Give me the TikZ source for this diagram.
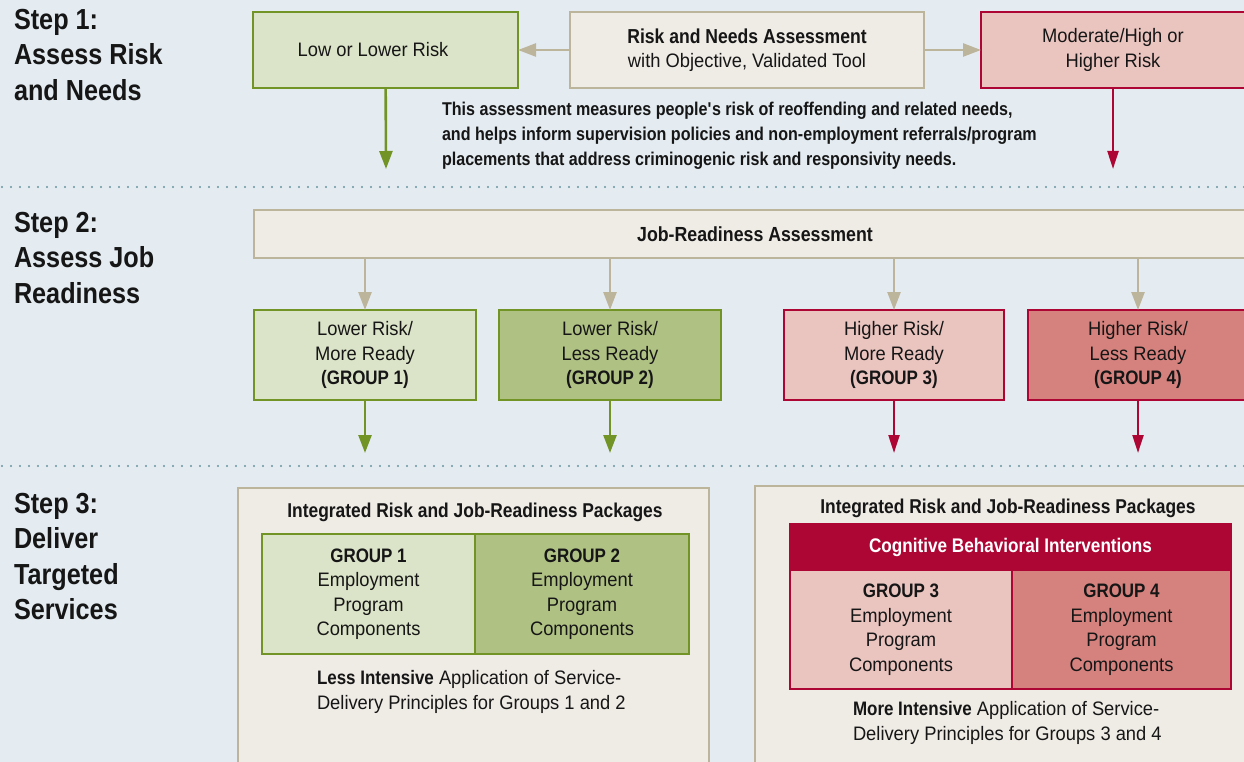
\documentclass[tikz,border=0pt]{standalone}
\usepackage{fontspec}
\setmainfont{Liberation Sans}[FakeStretch=0.94,BoldFeatures={FakeStretch=0.87}]
\usepackage{tikz}
\usetikzlibrary{arrows.meta,positioning}

\definecolor{bgblue}{RGB}{228,236,242}
\definecolor{inkblack}{RGB}{22,22,22}
\definecolor{beigefill}{RGB}{239,235,229}
\definecolor{tanline}{RGB}{189,180,156}
\definecolor{greenpale}{RGB}{219,228,200}
\definecolor{greenmid}{RGB}{175,193,131}
\definecolor{greenline}{RGB}{114,148,38}
\definecolor{pinkpale}{RGB}{234,196,191}
\definecolor{rosemid}{RGB}{213,130,126}
\definecolor{crimson}{RGB}{173,6,52}
\definecolor{dotteal}{RGB}{105,148,158}

\newcommand{\grp}[1]{{\bfseries\addfontfeature{FakeStretch=0.8}#1}}

\begin{document}
\begin{tikzpicture}[x=1pt, y=-1pt, text=inkblack, outer sep=0pt,
	stepname/.style	= {anchor=north west, align=left, inner sep=0pt, font=\bfseries\fontsize{29}{35.5}\selectfont},
	box/.style	= {draw, line width=2.5pt, inner sep=0pt, outer sep=0pt, align=center, font=\fontsize{19.5}{24.5}\selectfont},
	beigebox/.style	= {box, fill=beigefill, draw=tanline},
	lowbox/.style	= {box, fill=greenpale, draw=greenline},
	lessbox/.style	= {box, fill=greenmid, draw=greenline},
	highbox/.style	= {box, fill=pinkpale, draw=crimson},
	worsebox/.style	= {box, fill=rosemid, draw=crimson},
	caption/.style	= {anchor=north west, align=left, inner sep=0pt, font=\fontsize{19.5}{25.5}\selectfont},
	heading/.style	= {inner sep=0pt, font=\bfseries\fontsize{20}{24}\selectfont},
	tanarrow/.style	= {-{Triangle[width=13pt,length=18pt]}, color=tanline, line width=2.6pt},
	greenarrow/.style	= {-{Triangle[width=13pt,length=18pt]}, color=greenline, line width=2.6pt},
	redarrow/.style	= {-{Triangle[width=11pt,length=18pt]}, color=crimson, line width=2.2pt},
	dotline/.style	= {draw=dotteal, line width=2.2pt, line cap=round, dash pattern=on 0pt off 9pt}]

	\useasboundingbox (0,0) rectangle (1244,762);
	\clip (0,0) rectangle (1244,762);
	\fill [bgblue] (0,0) rectangle (1244,762);

	% step 1
	\node	(step1)	[stepname]	at (14,9)	{Step 1:\\Assess Risk\\and Needs};
	\node	(rna)	[beigebox, minimum width=354pt, minimum height=76pt]	at (747,50)
		{{\bfseries\fontsize{20.2}{24.5}\selectfont Risk and Needs Assessment}\\with Objective, Validated Tool};
	\node	(low)	[lowbox, minimum width=265pt, minimum height=76pt]	at (385.5,50)	{\hspace*{-25pt}Low or Lower Risk};
	\node	(high)	[highbox, minimum width=264pt, minimum height=76pt]	at (1113,50)	{Moderate/High or\\Higher Risk};
	\node	(note)	[anchor=north west, align=left, inner sep=0pt, font=\bfseries\fontsize{18.5}{25}\selectfont]	at (442,102)
		{This assessment measures people\textquotesingle s risk of reoffending and related needs,\\
		 and helps inform supervision policies and non-employment referrals/program\\
		 placements that address criminogenic risk and responsivity needs.};
	\coordinate	(lowend)	at (386,169);
	\coordinate	(highend)	at (1113,169);

	\path [tanarrow]
	(rna)	edge	(low)
		edge	(high)
	;
	\path [greenarrow]	(low)	edge	(lowend);
	\path [redarrow]	(high)	edge	(highend);

	\coordinate	(sepA)	at (2,187);
	\coordinate	(sepB)	at (1244,187);
	\draw [dotline]	(sepA) -- (sepB);

	% step 2
	\node	(step2)	[stepname]	at (14,212)	{Step 2:\\Assess Job\\Readiness};
	\node	(jra)	[beigebox, minimum width=1002pt, minimum height=48pt, font=\bfseries\fontsize{20.4}{24}\selectfont]	at (755,234)
		{Job-Readiness Assessment};
	\node	(g1)	[lowbox, minimum width=222pt, minimum height=90pt]	at (365,355)	{Lower Risk/\\More Ready\\\grp{(GROUP 1)}};
	\node	(g2)	[lessbox, minimum width=222pt, minimum height=90pt]	at (610,355)	{Lower Risk/\\Less Ready\\\grp{(GROUP 2)}};
	\node	(g3)	[highbox, minimum width=220pt, minimum height=90pt]	at (894,355)	{Higher Risk/\\More Ready\\\grp{(GROUP 3)}};
	\node	(g4)	[worsebox, minimum width=220pt, minimum height=90pt]	at (1138,355)	{Higher Risk/\\Less Ready\\\grp{(GROUP 4)}};
	\coordinate	(g1end)	at (365,453);
	\coordinate	(g2end)	at (610,453);
	\coordinate	(g3end)	at (894,453);
	\coordinate	(g4end)	at (1138,453);

	\path [tanarrow]
	(jra.south -| g1.north)	edge	(g1)
	(jra.south -| g2.north)	edge	(g2)
	(jra.south -| g3.north)	edge	(g3)
	(jra.south -| g4.north)	edge	(g4)
	;
	\path [greenarrow]
	(g1)	edge	(g1end)
	(g2)	edge	(g2end)
	;
	\path [redarrow]
	(g3)	edge	(g3end)
	(g4)	edge	(g4end)
	;

	\coordinate	(sepC)	at (2,466);
	\coordinate	(sepD)	at (1244,466);
	\draw [dotline]	(sepC) -- (sepD);

	% step 3
	\node	(step3)	[stepname]	at (14,493)	{Step 3:\\Deliver\\Targeted\\Services};

	\node	(lpack)	[beigebox, minimum width=471pt, minimum height=290pt]	at (473.5,633)	{};
	\node	(ltitle)	[heading]	at (475,512)	{Integrated Risk and Job-Readiness Packages};
	\node	(lg1)	[lowbox, minimum width=213pt, minimum height=120pt]	at (368.5,594)
		{\grp{GROUP 1}\\Employment\\Program\\Components};
	\node	(lg2)	[lessbox, minimum width=214pt, minimum height=120pt, right=0pt of lg1]
		{\grp{GROUP 2}\\Employment\\Program\\Components};
	\node	(lcap)	[caption]	at (317,670)
		{\textbf{Less Intensive} Application of Service-\\Delivery Principles for Groups 1 and 2};

	\node	(rpack)	[beigebox, minimum width=495pt, minimum height=290pt]	at (1002.5,631)	{};
	\node	(rtitle)	[heading]	at (1008,508)	{Integrated Risk and Job-Readiness Packages};
	\node	(cbi)	[fill=crimson, text=white, inner sep=0pt, minimum width=441pt, minimum height=46pt, font=\bfseries\fontsize{19.7}{24}\selectfont]	at (1010.5,547)
		{Cognitive Behavioral Interventions};
	\node	(rg3)	[highbox, minimum width=222pt, minimum height=119pt, below right=0pt and 0pt of cbi.south west]
		{\grp{GROUP 3}\\Employment\\Program\\Components};
	\node	(rg4)	[worsebox, minimum width=219pt, minimum height=119pt, right=0pt of rg3]
		{\grp{GROUP 4}\\Employment\\Program\\Components};
	\draw [crimson, line width=2.5pt]	(cbi.north west) rectangle (rg4.south east);
	\node	(rcap)	[caption]	at (853,701)
		{\textbf{More Intensive} Application of Service-\\Delivery Principles for Groups 3 and 4};
\end{tikzpicture}
\end{document}
